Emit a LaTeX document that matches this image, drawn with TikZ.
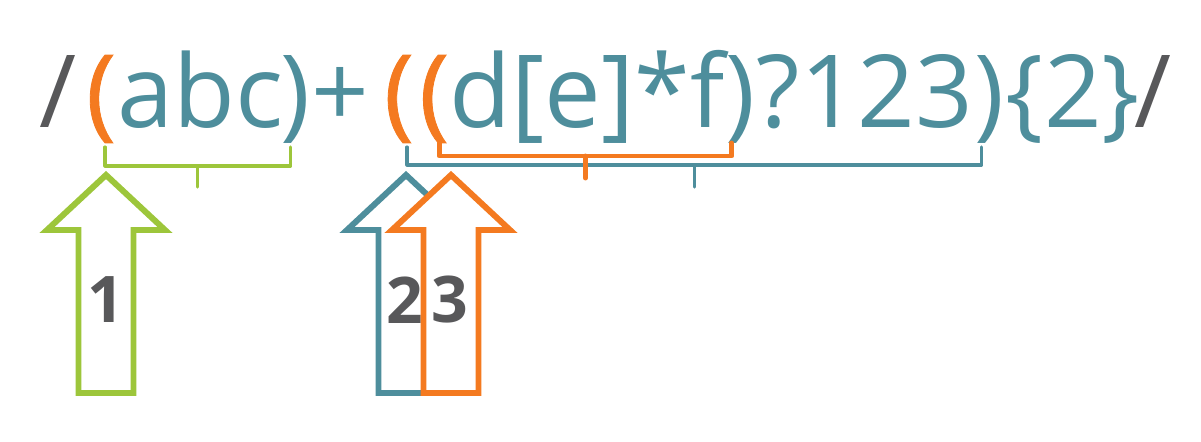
\documentclass[tikz,border=0pt]{standalone}
\usepackage{fontspec}
\setmainfont{Open Sans}
\newfontfamily\parenfont[FakeBold=0.8]{Open Sans}
\usetikzlibrary{positioning,calc}

\definecolor{regteal}{HTML}{4E8E9C}
\definecolor{regorange}{HTML}{F47A20}
\definecolor{reggreen}{HTML}{9DC63B}
\definecolor{reggrey}{HTML}{58585A}

\begin{document}
\begin{tikzpicture}[node distance=0pt,
    glyph/.style={inner sep=0pt, text height=21pt, text depth=7pt, font=\fontsize{28.7pt}{34pt}\selectfont, text=regteal},
    paren/.style={glyph, text=regorange, font=\fontsize{28.7pt}{34pt}\parenfont},
    num/.style={inner sep=0pt, font=\fontsize{18.3pt}{22pt}\selectfont\bfseries, text=reggrey},
    group/.style={line width=0.9pt, line join=round, line cap=round},
    pics/regarrow/.style={code={
      \path[pic actions] (-0.275,0) -- (0.275,0) -- (0.275,1.63) -- (0.59,1.63)
        -- (0,2.18) -- (-0.59,1.63) -- (-0.275,1.63) -- cycle;}}]

    \useasboundingbox (0,0) rectangle (12.01,4.41);

    % the expression, split where the groups open and close
    \node[glyph, text=reggrey, anchor=base west] (sl1) at (0.39,3.14) {/};
    \node[paren, right=0.08cm of sl1] (lp1) {(};
    \node[glyph, right=of lp1] (abc) {abc};
    \node[glyph, right=-0.04cm of abc] (rp1) {)};
    \node[glyph, right=of rp1] (plus) {+};
    \node[paren, right=0.13cm of plus] (lp2) {(};
    \node[paren, right=0.04cm of lp2] (lp3) {(};
    \node[glyph, right=-0.01cm of lp3] (inner) {d[e]*f};
    \node[glyph, right=of inner] (rp3) {)};
    \node[glyph, right=of rp3] (mid) {?123};
    \node[glyph, right=of mid] (rp2) {)};
    \node[glyph, right=of rp2] (quant) {\{2\}};
    \node[glyph, text=reggrey, right=-0.07cm of quant] (sl2) {/};

    % group brackets
    \coordinate (ga) at ($(lp1.base)+(0.04,-0.20)$);
    \coordinate (gb) at ($(rp1.base)+(-0.05,-0.20)$);
    \draw[group, draw=reggreen] (ga) -- ++(0,-0.19) -| (gb);
    \draw[group, draw=reggreen] ($(ga)!0.5!(gb)+(0,-0.19)$) -- ++(0,-0.21);

    \coordinate (ta) at ($(lp2.base)+(0.08,-0.20)$);
    \coordinate (tb) at ($(rp2.base)+(-0.08,-0.20)$);
    \draw[group, draw=regteal] (ta) -- ++(0,-0.18) -| (tb);
    \draw[group, draw=regteal] ($(ta)!0.5!(tb)+(0,-0.18)$) -- ++(0,-0.22);

    \coordinate (oa) at ($(lp3.base)+(0.05,-0.16)$);
    \coordinate (ob) at ($(rp3.base)+(-0.09,-0.16)$);
    \draw[group, line width=1.4pt, draw=regorange] (oa) -- ++(0,-0.13) -| (ob);
    \draw[group, line width=1.4pt, draw=regorange] ($(oa)!0.5!(ob)+(0,-0.13)$) -- ++(0,-0.22);

    % numbered arrows
    \pic[draw=reggreen, fill=white, line width=1.7pt] at (1.06,0.48) {regarrow};
    \node[num] (n1) at (1.06,1.41) {1};
    \pic[draw=regteal, fill=white, line width=1.7pt] at (4.06,0.48) {regarrow};
    \node[num] (n2) at (4.05,1.41) {2};
    \pic[draw=regorange, fill=white, line width=1.7pt] at (4.51,0.48) {regarrow};
    \node[num] (n3) at (4.50,1.41) {3};

\end{tikzpicture}
\end{document}
